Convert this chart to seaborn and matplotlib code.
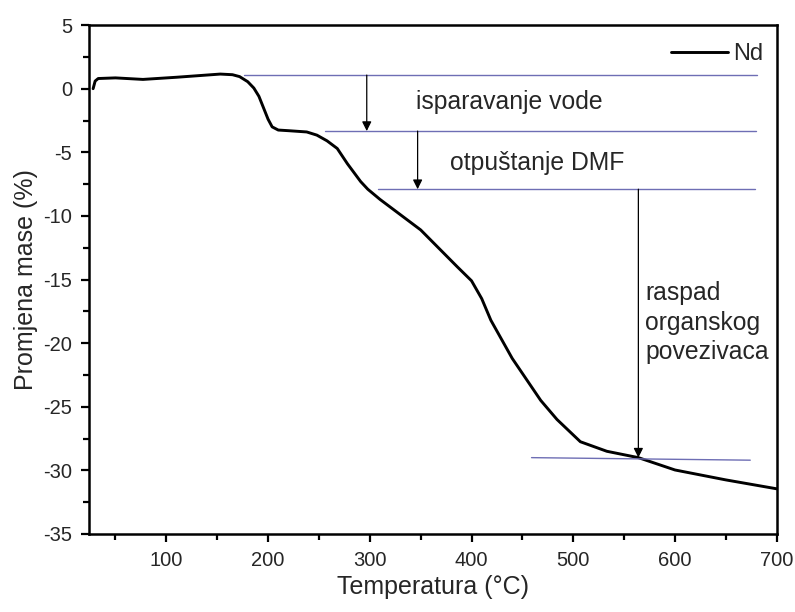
import pandas as pd
import matplotlib
matplotlib.use('Agg')
import matplotlib.pyplot as plt
import seaborn as sns
from matplotlib.ticker import MultipleLocator

# TGA curve
temperatura = [28, 30, 33, 50, 77, 110, 153, 165, 172, 180, 186, 191, 195, 200, 204, 210,
               220, 238, 248, 258, 268, 278, 291, 298, 310, 325, 350, 386, 400, 410, 419, 440,
               468, 484, 507, 533, 564, 600, 650, 700]
masa = [0.0, 0.6, 0.8, 0.85, 0.73, 0.9, 1.15, 1.1, 0.95, 0.55, 0.05, -0.6, -1.4, -2.4, -3.0, -3.25,
        -3.3, -3.4, -3.65, -4.1, -4.7, -5.9, -7.3, -7.9, -8.7, -9.6, -11.1, -14.0, -15.1, -16.5,
        -18.2, -21.2, -24.5, -26.0, -27.75, -28.5, -29.0, -29.97, -30.75, -31.45]

# blue guide lines (x start, x end, y start, y end)
linija_x0 = [176, 256, 308, 459]
linija_x1 = [681, 680, 679, 674]
linija_y0 = [1.07, -3.33, -7.9, -29.0]
linija_y1 = [1.07, -3.33, -7.9, -29.2]

# arrows between the levels
strelica_x = [297, 347, 564]
strelica_od = [1.07, -3.33, -7.9]
strelica_do = [-3.33, -7.9, -29.0]

natpisi = ['isparavanje vode', 'otpuštanje DMF', 'raspad\norganskog\npovezivaca']
natpis_x = [345, 379, 571]
natpis_y = [-1.05, -5.85, -18.4]

df = pd.DataFrame({'T': temperatura, 'm': masa})

sns.set_style('ticks')
plt.rcParams['font.family'] = ['Liberation Sans', 'DejaVu Sans']
plt.rcParams['axes.unicode_minus'] = False

fig = plt.figure(figsize=(7.95, 6.12), dpi=100)
ax = fig.add_axes([0.112, 0.1275, 0.865, 0.8315])

sns.lineplot(data=df, x='T', y='m', color='black', linewidth=2.1, label='Nd', ax=ax)

for x0, x1, y0, y1 in zip(linija_x0, linija_x1, linija_y0, linija_y1):
    ax.plot([x0, x1], [y0, y1], color='#6e6eb4', linewidth=1.0)

for x, a, b in zip(strelica_x, strelica_od, strelica_do):
    ax.annotate('', xy=(x, b), xytext=(x, a),
                arrowprops=dict(arrowstyle='-|>', color='black', lw=0.9,
                                mutation_scale=14, shrinkA=0, shrinkB=0))

for t, x, y in zip(natpisi, natpis_x, natpis_y):
    ax.text(x, y, t, fontsize=17.8, va='center', ha='left', linespacing=1.3)

ax.set_xlim(24, 700)
ax.set_ylim(-35, 5)
ax.xaxis.set_major_locator(MultipleLocator(100))
ax.xaxis.set_minor_locator(MultipleLocator(50))
ax.yaxis.set_major_locator(MultipleLocator(5))
ax.yaxis.set_minor_locator(MultipleLocator(2.5))
ax.tick_params(which='major', direction='out', length=6, width=1.6, labelsize=14.5,
               color='black', pad=6)
ax.tick_params(which='minor', direction='out', length=4, width=1.6, color='black')
for s in ax.spines.values():
    s.set_linewidth(1.8)
    s.set_color('black')

ax.set_xlabel('Temperatura (°C)', fontsize=18)
ax.set_ylabel('Promjena mase (%)', fontsize=18)

ax.legend(loc='center right', bbox_to_anchor=(1.0, 0.943), frameon=False, fontsize=17,
          handlelength=2.4, handletextpad=0.25, borderaxespad=0.15)

fig.savefig('out.png', dpi=100)
